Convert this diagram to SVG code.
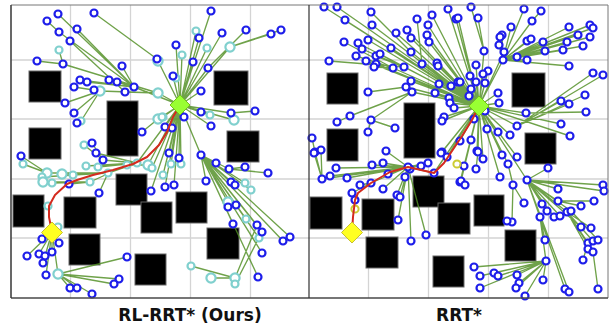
<svg xmlns="http://www.w3.org/2000/svg" xmlns:xlink="http://www.w3.org/1999/xlink" width="611" height="326" viewBox="0 0 611 326">
<style>
.grid{stroke:#d4d4d4;stroke-width:1.3;fill:none}
.obs{fill:#000;stroke:#666;stroke-width:1}
.e{stroke:#4f8e22;stroke-opacity:.82;stroke-width:1.35;fill:none}
.b{fill:#fff;stroke:#1e1eea;stroke-width:2.2}
.t{fill:#fff;stroke:#80d0ce;stroke-width:2.2}
.y{fill:none;stroke:#cccc33;stroke-width:2}
.path{stroke:#d42a1e;stroke-width:2;fill:none;stroke-linejoin:round}
.lbl{font-family:"DejaVu Sans","Liberation Sans",sans-serif;font-weight:bold;font-size:17px;fill:#111;text-anchor:middle}
</style>
<defs>
<circle id="bn" r="3.5" class="b"/>
<circle id="tn" r="3.5" class="t"/>
<circle id="tb" r="4.6" class="t"/>
</defs>
<rect width="611" height="326" fill="#fff"/>

<g id="grid">
<path class="grid" d="M70.5 5V298M130.5 5V298M190.5 5V298M250.5 5V298M368.5 5V298M428.5 5V298M488.5 5V298M548.5 5V298M11 60H608M11 119H608M11 179H608M11 238H608"/>
</g>

<g id="obstacles-left">
<rect class="obs" x="29" y="71" width="32" height="31"/>
<rect class="obs" x="107" y="101" width="31" height="55"/>
<rect class="obs" x="214" y="71" width="34" height="34"/>
<rect class="obs" x="29" y="128" width="32" height="31"/>
<rect class="obs" x="227" y="131" width="32" height="31"/>
<rect class="obs" x="116" y="174" width="31" height="31"/>
<rect class="obs" x="141" y="202" width="31" height="31"/>
<rect class="obs" x="176" y="192" width="31" height="31"/>
<rect class="obs" x="13" y="195" width="31" height="32"/>
<rect class="obs" x="64" y="197" width="32" height="31"/>
<rect class="obs" x="69" y="234" width="31" height="31"/>
<rect class="obs" x="207" y="228" width="32" height="31"/>
<rect class="obs" x="135" y="254" width="31" height="31"/>
</g>
<g id="obstacles-right">
<rect class="obs" x="327" y="73" width="31" height="31"/>
<rect class="obs" x="404" y="103" width="31" height="55"/>
<rect class="obs" x="512" y="73" width="33" height="34"/>
<rect class="obs" x="327" y="129" width="31" height="32"/>
<rect class="obs" x="525" y="133" width="31" height="31"/>
<rect class="obs" x="413" y="176" width="31" height="31"/>
<rect class="obs" x="438" y="203" width="32" height="31"/>
<rect class="obs" x="474" y="195" width="30" height="31"/>
<rect class="obs" x="310" y="197" width="32" height="32"/>
<rect class="obs" x="362" y="199" width="32" height="31"/>
<rect class="obs" x="366" y="237" width="32" height="31"/>
<rect class="obs" x="505" y="230" width="31" height="31"/>
<rect class="obs" x="433" y="256" width="31" height="31"/>
</g>

<g id="connectors">
<path class="e" d="M58 14L134 87M47 21L59 32M59 32L134 87M77 29L134 87M70 41L125 92M94 13L157 59M157 59L180 105M59 50L63 64M37 61L63 64M63 64L158 93M122 66L134 87M80 80L134 87M87 82L134 87M109 80L134 87M117 82L134 87M74 87L100 91M94 90L100 91M100 91L158 93M125 92L158 93M134 87L180 105M158 93L180 105M65 103L100 91M74 113L100 91M77 123L81 121M81 121L100 91M142 132L158 119M158 119L180 105M163 117L180 105M165 127L180 105M172 128L180 105M211 11L180 105M196 31L180 105M199 38L180 105M222 33L180 105M246 30L208 68M271 34L230 47M281 30L230 47M230 47L180 105M207 48L180 105M176 45L180 105M182 55L180 105M193 62L180 105M208 68L180 105M173 76L180 105M201 91L180 105M201 112L180 105M231 113L180 105M255 111L231 113M210 115L180 105M234 120L180 105M211 126L180 105M169 153L180 105M179 158L180 105M181 164L180 105M171 164L180 105M163 175L180 105M165 187L180 105M174 185L180 105M201 155L180 105M216 163L201 155M229 169L201 155M245 167L229 169M268 173L229 169M206 181L201 155M231 182L201 155M235 185L201 155M245 183L201 155M251 190L201 155M228 202L201 155M236 205L201 155M246 219L201 155M233 224L201 155M257 225L201 155M262 232L201 155M259 238L201 155M283 241L201 155M290 237L201 155M262 253L201 155M258 277L201 155M235 278L257 225M235 284L262 232M191 266L235 278M211 278L235 278M228 207L228 202M21 156L47 173M23 164L47 173M96 153L137 163M103 160L137 163M92 143L103 160M84 145L103 160M86 166L137 163M98 167L137 163M137 163L180 105M148 165L180 105M152 168L180 105M127 165L148 165M47 173L108 173M62 174L108 173M73 175L108 173M42 177L73 175M43 182L90 182M52 183L90 182M69 184L90 182M90 182L127 165M108 173L137 163M99 193L108 173M151 191L180 105M42 239L52 232M59 243L52 232M27 256L52 232M39 254L52 232M45 256L52 232M52 252L52 232M43 263L52 232M46 275L52 232M58 274L52 232M127 257L58 274M119 279L58 274M114 284L58 274M70 288L58 274M77 288L58 274M92 294L58 274"/>
<path class="e" d="M324 7L479 106M337 7L479 106M345 20L479 106M371 12L411 52M372 25L479 106M344 42L393 68M358 43L479 106M362 49L404 67M368 40L479 106M356 56L393 68M366 61L479 106M376 56L404 67M380 54L479 106M376 64L479 106M374 67L393 68M329 61L404 67M391 48L479 106M396 33L479 106M407 30L479 106M411 38L479 106M417 19L422 64M428 25L479 106M432 15L479 106M427 35L479 106M429 42L479 106M411 52L479 106M393 68L479 106M404 67L479 106M422 64L479 106M437 63L479 106M438 66L479 106M448 9L479 106M456 19L479 106M411 81L479 106M406 87L479 106M412 92L479 106M368 92L406 87M439 84L479 106M451 86L479 106M435 93L479 106M449 98L479 106M450 103L479 106M454 108L479 106M458 82L479 106M350 116L412 92M337 122L350 116M371 120L412 92M395 128L371 120M368 132L371 120M312 138L315 152M315 152L322 179M321 150L322 179M386 151L408 167M444 117L479 106M442 121L479 106M442 152L479 106M471 7L484 51M458 18L479 106M478 18L484 51M524 9L503 60M541 11L532 21M532 21L503 60M511 27L503 60M502 35L503 60M500 37L503 60M499 45L503 60M527 41L503 60M531 39L503 60M543 42L503 60M545 51L503 60M569 27L503 60M590 25L503 60M593 28L503 60M578 35L503 60M567 42L503 60M590 37L503 60M583 46L503 60M563 50L503 60M484 51L479 106M504 52L479 106M517 57L503 60M503 60L479 106M527 60L503 60M569 66L503 60M476 65L479 106M488 71L479 106M483 74L479 106M470 76L479 106M460 82L479 106M476 82L479 106M485 83L479 106M471 89L479 106M469 96L479 106M498 93L479 106M499 103L479 106M593 73L517 126M603 75L517 126M585 95L517 126M561 101L517 126M569 104L517 126M586 112L526 113M526 113L479 106M485 111L479 106M474 119L479 106M561 124L479 106M517 126L479 106M487 129L479 106M498 132L479 106M510 135L479 106M570 136L479 106M471 140L479 106M460 141L479 106M477 151L479 106M314 153L322 179M441 153L479 106M447 157L479 106M428 163L408 167M421 166L408 167M410 169L408 167M434 173L479 106M408 167L434 173M405 177L408 167M336 168L408 167M372 165L408 167M383 163L408 167M388 174L408 167M322 179L408 167M330 176L408 167M347 178L408 167M360 185L371 183M371 183L408 167M383 189L408 167M352 193L371 183M355 200L352 193M397 195L408 167M400 197L408 167M398 220L408 167M411 241L408 167M426 235L408 167M460 182L479 106M478 152L479 106M502 155L479 106M517 157L479 106M483 159L479 106M464 166L479 106M476 169L478 152M508 164L479 106M548 168L527 180M461 181L479 106M465 185L461 181M500 177L479 106M527 180L479 106M513 185L508 164M524 203L513 185M603 185L527 180M604 191L527 180M558 189L527 180M558 201L527 180M594 201L558 201M581 206L558 201M542 204L527 180M547 211L527 180M540 217L527 180M554 217L527 180M560 216L527 180M567 212L527 180M571 211L527 180M512 222L513 185M507 221L512 222M581 227L527 180M591 228L567 212M545 240L540 217M588 243L567 212M593 241L567 212M598 240L571 211M588 249L567 212M593 252L567 212M583 260L588 243M546 261L540 217M474 267L546 261M480 276L546 261M494 273L546 261M498 276L546 261M517 275L546 261M519 283L546 261M516 288L546 261M480 288L546 261M525 296L546 261M543 280L546 261M565 289L527 180M569 292L527 180M598 289L593 252"/>
</g>

<g id="nodes-left">
<use href="#tb" x="158" y="61"/><use href="#tn" x="59" y="50"/><use href="#tb" x="100" y="91"/><use href="#tb" x="158" y="93"/><use href="#tn" x="81" y="121"/><use href="#tb" x="158" y="119"/><use href="#tn" x="163" y="117"/><use href="#tn" x="196" y="31"/><use href="#tb" x="230" y="47"/><use href="#tn" x="207" y="48"/><use href="#tn" x="182" y="55"/><use href="#tn" x="176" y="78"/><use href="#tn" x="210" y="115"/><use href="#tb" x="234" y="120"/><use href="#tn" x="162" y="117"/><use href="#tn" x="181" y="164"/><use href="#tn" x="171" y="164"/><use href="#tn" x="163" y="175"/><use href="#tn" x="245" y="183"/><use href="#tn" x="251" y="190"/><use href="#tb" x="228" y="202"/><use href="#tn" x="246" y="219"/><use href="#tn" x="259" y="238"/><use href="#tb" x="235" y="278"/><use href="#tn" x="235" y="284"/><use href="#tn" x="191" y="266"/><use href="#tb" x="211" y="278"/><use href="#tn" x="23" y="164"/><use href="#tn" x="84" y="145"/><use href="#tn" x="86" y="166"/><use href="#tn" x="98" y="167"/><use href="#tn" x="127" y="165"/><use href="#tn" x="137" y="163"/><use href="#tb" x="148" y="165"/><use href="#tn" x="152" y="168"/><use href="#tb" x="47" y="173"/><use href="#tb" x="62" y="174"/><use href="#tn" x="73" y="175"/><use href="#tn" x="42" y="177"/><use href="#tb" x="43" y="182"/><use href="#tn" x="52" y="183"/><use href="#tn" x="90" y="182"/><use href="#tn" x="108" y="173"/><use href="#tn" x="48" y="206"/><use href="#tn" x="58" y="227"/><use href="#tb" x="58" y="274"/>
<use href="#bn" x="58" y="14"/><use href="#bn" x="47" y="21"/><use href="#bn" x="59" y="32"/><use href="#bn" x="77" y="29"/><use href="#bn" x="70" y="41"/><use href="#bn" x="94" y="13"/><use href="#bn" x="157" y="59"/><use href="#bn" x="37" y="61"/><use href="#bn" x="63" y="64"/><use href="#bn" x="122" y="66"/><use href="#bn" x="80" y="80"/><use href="#bn" x="87" y="82"/><use href="#bn" x="109" y="80"/><use href="#bn" x="117" y="82"/><use href="#bn" x="74" y="87"/><use href="#bn" x="94" y="90"/><use href="#bn" x="125" y="92"/><use href="#bn" x="134" y="87"/><use href="#bn" x="65" y="103"/><use href="#bn" x="74" y="113"/><use href="#bn" x="77" y="123"/><use href="#bn" x="142" y="132"/><use href="#bn" x="165" y="127"/><use href="#bn" x="172" y="128"/><use href="#bn" x="211" y="11"/><use href="#bn" x="199" y="38"/><use href="#bn" x="222" y="33"/><use href="#bn" x="246" y="30"/><use href="#bn" x="271" y="34"/><use href="#bn" x="281" y="30"/><use href="#bn" x="176" y="45"/><use href="#bn" x="193" y="62"/><use href="#bn" x="208" y="68"/><use href="#bn" x="173" y="76"/><use href="#bn" x="201" y="91"/><use href="#bn" x="201" y="112"/><use href="#bn" x="231" y="113"/><use href="#bn" x="255" y="111"/><use href="#bn" x="211" y="126"/><use href="#bn" x="184" y="117"/><use href="#bn" x="169" y="153"/><use href="#bn" x="179" y="158"/><use href="#bn" x="165" y="187"/><use href="#bn" x="174" y="185"/><use href="#bn" x="201" y="155"/><use href="#bn" x="216" y="163"/><use href="#bn" x="229" y="169"/><use href="#bn" x="245" y="167"/><use href="#bn" x="268" y="173"/><use href="#bn" x="206" y="181"/><use href="#bn" x="231" y="182"/><use href="#bn" x="235" y="185"/><use href="#bn" x="228" y="207"/><use href="#bn" x="236" y="205"/><use href="#bn" x="233" y="224"/><use href="#bn" x="257" y="225"/><use href="#bn" x="262" y="232"/><use href="#bn" x="283" y="241"/><use href="#bn" x="290" y="237"/><use href="#bn" x="262" y="253"/><use href="#bn" x="258" y="277"/><use href="#bn" x="21" y="156"/><use href="#bn" x="96" y="153"/><use href="#bn" x="103" y="160"/><use href="#bn" x="92" y="143"/><use href="#bn" x="69" y="184"/><use href="#bn" x="99" y="193"/><use href="#bn" x="151" y="191"/><use href="#bn" x="42" y="239"/><use href="#bn" x="59" y="243"/><use href="#bn" x="27" y="256"/><use href="#bn" x="39" y="254"/><use href="#bn" x="45" y="256"/><use href="#bn" x="52" y="252"/><use href="#bn" x="43" y="263"/><use href="#bn" x="46" y="275"/><use href="#bn" x="127" y="257"/><use href="#bn" x="119" y="279"/><use href="#bn" x="114" y="284"/><use href="#bn" x="70" y="288"/><use href="#bn" x="77" y="288"/><use href="#bn" x="92" y="294"/>
</g>

<g id="nodes-right">
<use href="#bn" x="324" y="7"/><use href="#bn" x="337" y="7"/><use href="#bn" x="345" y="20"/><use href="#bn" x="371" y="12"/><use href="#bn" x="372" y="25"/><use href="#bn" x="344" y="42"/><use href="#bn" x="358" y="43"/><use href="#bn" x="362" y="49"/><use href="#bn" x="368" y="40"/><use href="#bn" x="356" y="56"/><use href="#bn" x="366" y="61"/><use href="#bn" x="376" y="56"/><use href="#bn" x="380" y="54"/><use href="#bn" x="376" y="64"/><use href="#bn" x="374" y="67"/><use href="#bn" x="329" y="61"/><use href="#bn" x="391" y="48"/><use href="#bn" x="396" y="33"/><use href="#bn" x="407" y="30"/><use href="#bn" x="411" y="38"/><use href="#bn" x="417" y="19"/><use href="#bn" x="428" y="25"/><use href="#bn" x="432" y="15"/><use href="#bn" x="427" y="35"/><use href="#bn" x="429" y="42"/><use href="#bn" x="411" y="52"/><use href="#bn" x="393" y="68"/><use href="#bn" x="404" y="67"/><use href="#bn" x="422" y="64"/><use href="#bn" x="437" y="63"/><use href="#bn" x="438" y="66"/><use href="#bn" x="448" y="9"/><use href="#bn" x="456" y="19"/><use href="#bn" x="411" y="81"/><use href="#bn" x="406" y="87"/><use href="#bn" x="412" y="92"/><use href="#bn" x="368" y="92"/><use href="#bn" x="439" y="84"/><use href="#bn" x="451" y="86"/><use href="#bn" x="435" y="93"/><use href="#bn" x="449" y="98"/><use href="#bn" x="450" y="103"/><use href="#bn" x="454" y="108"/><use href="#bn" x="458" y="82"/><use href="#bn" x="350" y="116"/><use href="#bn" x="337" y="122"/><use href="#bn" x="371" y="120"/><use href="#bn" x="395" y="128"/><use href="#bn" x="368" y="132"/><use href="#bn" x="312" y="138"/><use href="#bn" x="315" y="152"/><use href="#bn" x="321" y="150"/><use href="#bn" x="386" y="151"/><use href="#bn" x="444" y="117"/><use href="#bn" x="442" y="121"/><use href="#bn" x="442" y="152"/>
<use href="#bn" x="471" y="7"/><use href="#bn" x="458" y="18"/><use href="#bn" x="478" y="18"/><use href="#bn" x="524" y="9"/><use href="#bn" x="541" y="11"/><use href="#bn" x="532" y="21"/><use href="#bn" x="511" y="27"/><use href="#bn" x="502" y="35"/><use href="#bn" x="500" y="37"/><use href="#bn" x="499" y="45"/><use href="#bn" x="527" y="41"/><use href="#bn" x="531" y="39"/><use href="#bn" x="543" y="42"/><use href="#bn" x="545" y="51"/><use href="#bn" x="569" y="27"/><use href="#bn" x="590" y="25"/><use href="#bn" x="593" y="28"/><use href="#bn" x="578" y="35"/><use href="#bn" x="567" y="42"/><use href="#bn" x="590" y="37"/><use href="#bn" x="583" y="46"/><use href="#bn" x="563" y="50"/><use href="#bn" x="484" y="51"/><use href="#bn" x="504" y="52"/><use href="#bn" x="517" y="57"/><use href="#bn" x="503" y="60"/><use href="#bn" x="527" y="60"/><use href="#bn" x="569" y="66"/><use href="#bn" x="476" y="65"/><use href="#bn" x="488" y="71"/><use href="#bn" x="483" y="74"/><use href="#bn" x="470" y="76"/><use href="#bn" x="460" y="82"/><use href="#bn" x="476" y="82"/><use href="#bn" x="485" y="83"/><use href="#bn" x="471" y="89"/><use href="#bn" x="469" y="96"/><use href="#bn" x="498" y="93"/><use href="#bn" x="499" y="103"/><use href="#bn" x="593" y="73"/><use href="#bn" x="603" y="75"/><use href="#bn" x="585" y="95"/><use href="#bn" x="561" y="101"/><use href="#bn" x="569" y="104"/><use href="#bn" x="586" y="112"/><use href="#bn" x="526" y="113"/><use href="#bn" x="485" y="111"/><use href="#bn" x="474" y="119"/><use href="#bn" x="561" y="124"/><use href="#bn" x="517" y="126"/><use href="#bn" x="487" y="129"/><use href="#bn" x="498" y="132"/><use href="#bn" x="510" y="135"/><use href="#bn" x="570" y="136"/><use href="#bn" x="471" y="140"/><use href="#bn" x="460" y="141"/><use href="#bn" x="477" y="151"/>
<use href="#bn" x="314" y="153"/><use href="#bn" x="441" y="153"/><use href="#bn" x="447" y="157"/><use href="#bn" x="428" y="163"/><use href="#bn" x="421" y="166"/><use href="#bn" x="410" y="169"/><use href="#bn" x="434" y="173"/><use href="#bn" x="408" y="167"/><use href="#bn" x="405" y="177"/><use href="#bn" x="336" y="168"/><use href="#bn" x="372" y="165"/><use href="#bn" x="383" y="163"/><use href="#bn" x="388" y="174"/><use href="#bn" x="322" y="179"/><use href="#bn" x="330" y="176"/><use href="#bn" x="347" y="178"/><use href="#bn" x="360" y="185"/><use href="#bn" x="371" y="183"/><use href="#bn" x="383" y="189"/><use href="#bn" x="352" y="193"/><use href="#bn" x="355" y="200"/><use href="#bn" x="397" y="195"/><use href="#bn" x="400" y="197"/><use href="#bn" x="398" y="220"/><use href="#bn" x="411" y="241"/><use href="#bn" x="426" y="235"/><use href="#bn" x="460" y="182"/>
<use href="#bn" x="478" y="152"/><use href="#bn" x="502" y="155"/><use href="#bn" x="517" y="157"/><use href="#bn" x="483" y="159"/><use href="#bn" x="464" y="166"/><use href="#bn" x="476" y="169"/><use href="#bn" x="508" y="164"/><use href="#bn" x="548" y="168"/><use href="#bn" x="461" y="181"/><use href="#bn" x="465" y="185"/><use href="#bn" x="500" y="177"/><use href="#bn" x="527" y="180"/><use href="#bn" x="513" y="185"/><use href="#bn" x="524" y="203"/><use href="#bn" x="603" y="185"/><use href="#bn" x="604" y="191"/><use href="#bn" x="558" y="189"/><use href="#bn" x="558" y="201"/><use href="#bn" x="594" y="201"/><use href="#bn" x="581" y="206"/><use href="#bn" x="542" y="204"/><use href="#bn" x="547" y="211"/><use href="#bn" x="540" y="217"/><use href="#bn" x="554" y="217"/><use href="#bn" x="560" y="216"/><use href="#bn" x="567" y="212"/><use href="#bn" x="571" y="211"/><use href="#bn" x="512" y="222"/><use href="#bn" x="507" y="221"/><use href="#bn" x="581" y="227"/><use href="#bn" x="591" y="228"/><use href="#bn" x="545" y="240"/><use href="#bn" x="588" y="243"/><use href="#bn" x="593" y="241"/><use href="#bn" x="598" y="240"/><use href="#bn" x="588" y="249"/><use href="#bn" x="593" y="252"/><use href="#bn" x="583" y="260"/><use href="#bn" x="546" y="261"/><use href="#bn" x="474" y="267"/><use href="#bn" x="480" y="276"/><use href="#bn" x="494" y="273"/><use href="#bn" x="498" y="276"/><use href="#bn" x="517" y="275"/><use href="#bn" x="519" y="283"/><use href="#bn" x="516" y="288"/><use href="#bn" x="480" y="288"/><use href="#bn" x="525" y="296"/><use href="#bn" x="543" y="280"/><use href="#bn" x="565" y="289"/><use href="#bn" x="569" y="292"/><use href="#bn" x="598" y="289"/>
<circle class="y" cx="457" cy="164" r="3.6"/><circle class="y" cx="355" cy="209" r="3.6"/>
</g>

<g id="paths">
<path class="path" d="M180 105L173 117L167 132L159 145L147 157L133 164L113 170L93 175L77 180L67 184L55 195L49 206L49 217L52 232"/>
<path class="path" d="M479 106L472 120L462 136L452 151L444 163L434 173L408 167L390 172L371 183L358 193L355 200L353 217L352 232"/>
</g>

<g id="goal-left"><path d="M180 95L190 105L180 115L170 105Z" fill="#99ff33" stroke="#74c21c" stroke-width="1"/></g>
<g id="start-left"><path d="M52 222L62.5 232.5L52 243L41.5 232.5Z" fill="#ffff22" stroke="#c8c030" stroke-width="1"/></g>
<g id="goal-right"><path d="M479 96L489 106L479 116L469 106Z" fill="#99ff33" stroke="#74c21c" stroke-width="1"/></g>
<g id="start-right"><path d="M352 222L362.5 232.5L352 243L341.5 232.5Z" fill="#ffff22" stroke="#c8c030" stroke-width="1"/></g>

<g id="frame">
<path d="M11 5H608V298H11Z" fill="none" stroke="#777" stroke-width="1"/>
<path d="M11 5V298M309 5V298M11 298H608" fill="none" stroke="#333" stroke-width="1.2"/>
</g>

<text class="lbl" x="190" y="321">RL-RRT* (Ours)</text>
<text class="lbl" x="459" y="321">RRT*</text>
</svg>
